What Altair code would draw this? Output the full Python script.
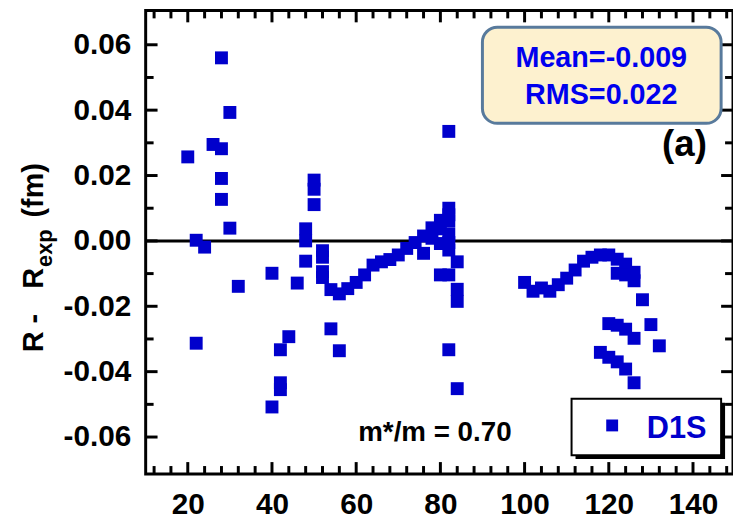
import altair as alt
import pandas as pd

# ---- data ----
X_VALS = [20, 22, 22, 24, 26, 28, 28, 28, 28, 30, 30, 32,
          40, 40, 42, 42, 42, 44, 46, 48, 48, 48,
          50, 50, 50, 52, 52, 52, 52, 54, 54, 56, 56, 58, 60, 62, 64, 66, 68, 70, 72, 74,
          76, 76, 78, 78, 80, 80, 80, 80,
          82, 82, 82, 82, 82, 82, 82, 82, 82, 84, 84, 84, 84,
          100, 102, 104, 106, 108, 110, 112, 114, 116, 118, 120, 122, 122, 124, 124, 126, 126,
          128, 130, 132,
          118, 120, 120, 122, 122, 124, 124, 126, 126]
Y_VALS = [0.0257, 0.0002, -0.0313, -0.0019, 0.0295, 0.0560, 0.0282, 0.0191, 0.0127, 0.0393, 0.0039, -0.0139,
          -0.0099, -0.0508, -0.0333, -0.0434, -0.0455, -0.0293, -0.0129, 0.0037, 0.0000, -0.0062,
          0.0186, 0.0158, 0.0111, -0.0030, -0.0050, -0.0094, -0.0112, -0.0149, -0.0269, -0.0162, -0.0336,
          -0.0146, -0.0127, -0.0104, -0.0074, -0.0064, -0.0057, -0.0043, -0.0023, -0.0005,
          0.0015, -0.0038, 0.0040, 0.0008, 0.0063, 0.0037, -0.0008, -0.0104,
          0.0335, 0.0100, 0.0080, 0.0060, 0.0020, -0.0005, -0.0028, -0.0104, -0.0333,
          -0.0064, -0.0148, -0.0185, -0.0452,
          -0.0127, -0.0154, -0.0144, -0.0154, -0.0134, -0.0114, -0.0089, -0.0062, -0.0050, -0.0043,
          -0.0043, -0.0056, -0.0099, -0.0071, -0.0104, -0.0096, -0.0122,
          -0.0180, -0.0256, -0.0321,
          -0.0341, -0.0253, -0.0356, -0.0258, -0.0370, -0.0270, -0.0392, -0.0298, -0.0434]

X_MAJOR = [20, 40, 60, 80, 100, 120, 140]
X_MINOR = [12, 16, 24, 28, 32, 36, 44, 48, 52, 56, 64, 68, 72, 76, 84, 88, 92, 96,
           104, 108, 112, 116, 124, 128, 132, 136, 144, 148]
Y_MAJOR = [-0.06, -0.04, -0.02, 0.0, 0.02, 0.04, 0.06]
Y_MINOR = [-0.05, -0.03, -0.01, 0.01, 0.03, 0.05]

SERIES = "D1S"
STATS = ["Mean=-0.009", "RMS=0.022"]
PANEL = "(a)"
NOTE = "m*/m = 0.70"

df = pd.DataFrame({"x": X_VALS, "y": Y_VALS})

FONT = "Liberation Sans"
BLUE = "#0000CC"
TXTBLUE = "#0000EE"
W, H = 593, 468
MAJ, MIN = 12, 8

xs = alt.Scale(domain=[10, 149.5], nice=False, zero=False)
ys = alt.Scale(domain=[-0.0713, 0.0705], nice=False, zero=False)

x_lab = alt.Axis(orient="bottom", values=X_MAJOR, ticks=False, tickSize=0, domain=False,
                 grid=False, labelPadding=16, labelFontSize=30, labelFont=FONT,
                 labelFontWeight="bold", labelColor="black", title="", format="d",
                 labelOverlap=False)
y_lab = alt.Axis(orient="left", values=Y_MAJOR, ticks=False, tickSize=0, domain=False,
                 grid=False, labelPadding=15, labelFontSize=30, labelFont=FONT,
                 labelFontWeight="bold", labelColor="black", title="", labelOverlap=False,
                 labelExpr="datum.value < 0 ? '-' + format(-datum.value, '.2f') : format(datum.value, '.2f')")

points = alt.Chart(df).mark_square(size=170, color=BLUE, opacity=1, strokeWidth=0).encode(
    x=alt.X("x:Q", scale=xs, axis=x_lab),
    y=alt.Y("y:Q", scale=ys, axis=y_lab),
)


# inward ticks on all four sides, placed through the scales from the tick value lists
def yticks(values, x0, x1):
    return alt.Chart(pd.DataFrame({"v": values})).mark_rule(color="black", strokeWidth=3).encode(
        y=alt.Y("v:Q", scale=ys, axis=None), x=alt.value(x0), x2=alt.value(x1))


def xticks(values, y0, y1):
    return alt.Chart(pd.DataFrame({"v": values})).mark_rule(color="black", strokeWidth=3).encode(
        x=alt.X("v:Q", scale=xs, axis=None), y=alt.value(y0), y2=alt.value(y1))


ticks = [
    yticks(Y_MAJOR, 0, MAJ), yticks(Y_MINOR, 0, MIN),
    yticks(Y_MAJOR, W - MAJ, W), yticks(Y_MINOR, W - MIN, W),
    xticks(X_MAJOR, H - MAJ, H), xticks(X_MINOR, H - MIN, H),
    xticks(X_MAJOR, 0, MAJ), xticks(X_MINOR, 0, MIN),
]

one = alt.Data(values=[{"k": 1}])

zero = alt.Chart(one).mark_rule(color="black", strokeWidth=3).encode(
    y=alt.YDatum(0, scale=ys, axis=None)
)

box = alt.Chart(one).mark_rect(cornerRadius=15, fill="#FDF1CF", stroke="#587A9C",
                               strokeWidth=3).encode(
    x=alt.value(340), x2=alt.value(581), y=alt.value(17), y2=alt.value(114))


def label(txt, x, y, size, color="black", align="center", angle=0):
    return alt.Chart(one).mark_text(text=txt, font=FONT, fontWeight="bold", fontSize=size,
                                    color=color, align=align, baseline="alphabetic",
                                    angle=angle).encode(x=alt.value(x), y=alt.value(y))


mean_t = label(STATS[0], 460, 57, 29, TXTBLUE)
rms_t = label(STATS[1], 460, 94, 29, TXTBLUE)
panel_t = label(PANEL, 544, 147, 37)
note_t = label(NOTE, 292, 435, 28)

leg_shadow = alt.Chart(one).mark_rect(fill="black").encode(
    x=alt.value(434), x2=alt.value(585), y=alt.value(396), y2=alt.value(453))
leg_box = alt.Chart(one).mark_rect(fill="white", stroke="black", strokeWidth=2).encode(
    x=alt.value(430), x2=alt.value(581), y=alt.value(392), y2=alt.value(449))
leg_sym = alt.Chart(one).mark_square(size=144, color=BLUE, opacity=1).encode(
    x=alt.value(471), y=alt.value(419))
leg_txt = label(SERIES, 506, 432, 31, BLUE, align="left")

# y-axis title "R - R_exp (fm)", composed with a lowered, smaller subscript
yt1 = label("R  -", -104, 345, 29, align="left", angle=270)
yt1b = label("R", -104, 281, 29, align="left", angle=270)
yt2 = label("exp", -95, 259, 22, align="left", angle=270)
yt3 = label("(fm)", -104, 209, 29, align="left", angle=270)

chart = alt.layer(
    zero, points, *ticks, box, mean_t, rms_t, panel_t, note_t,
    leg_shadow, leg_box, leg_sym, leg_txt, yt1, yt1b, yt2, yt3
).resolve_axis(x="independent", y="independent").properties(
    width=W, height=H,
    autosize=alt.AutoSizeParams(type="none"),
    padding={"left": 139, "top": 0, "right": 0, "bottom": 44},
).configure_view(stroke="black", strokeWidth=3)

chart.save("out.html", embed_options={"renderer": "svg", "actions": False})
